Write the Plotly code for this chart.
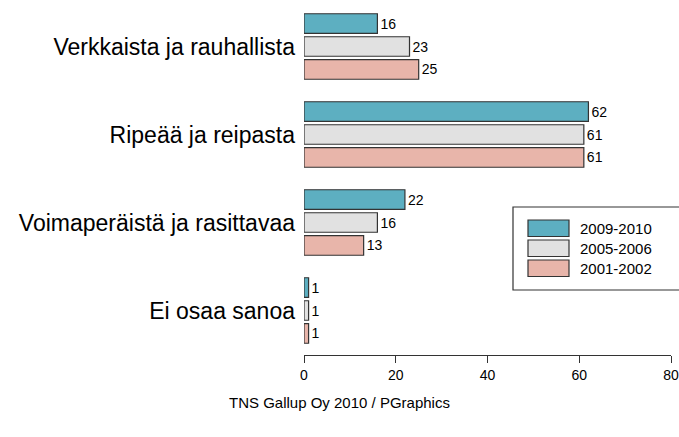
import plotly.graph_objects as go

categories = ["Verkkaista ja rauhallista", "Ripeää ja reipasta", "Voimaperäistä ja rasittavaa", "Ei osaa sanoa"]
series_names = ["2009-2010", "2005-2006", "2001-2002"]
values_2009 = [16, 62, 22, 1]
values_2005 = [23, 61, 16, 1]
values_2001 = [25, 61, 13, 1]
x_ticks = [0, 20, 40, 60, 80]
footer = "TNS Gallup Oy 2010 / PGraphics"

colors = ["#5DAFC1", "#E1E1E1", "#E8B5AA"]
font_family = "Liberation Sans, Arial, Helvetica, sans-serif"

W, H = 679, 437
# plot area in window pixels
PX0, PX1, PY0, PY1 = 304, 671, 10, 355
L = PX0
R = W - PX1
T = PY0
B = H - PY1
pw = PX1 - PX0
ph = PY1 - PY0

fig = go.Figure()
for name, vals, col in zip(series_names, [values_2009, values_2005, values_2001], colors):
    fig.add_trace(go.Bar(
        y=categories, x=vals, name=name, orientation="h",
        marker=dict(color=col, line=dict(color="#333333", width=1.2)),
        text=[str(v) for v in vals], textposition="outside",
        textfont=dict(size=14, color="#000000", family=font_family),
        constraintext="none", cliponaxis=False, showlegend=False,
    ))

pitch = 88.0
top_off = (46.5 - PY0) / pitch
span = ph / pitch
fig.update_layout(
    width=W, height=H,
    margin=dict(l=L, r=R, t=T, b=B, pad=0, autoexpand=False),
    paper_bgcolor="white", plot_bgcolor="white",
    barmode="group", bargap=0.216, bargroupgap=0.15,
    font=dict(family=font_family, color="#000000"),
    xaxis=dict(range=[0, 80], tickvals=x_ticks, ticktext=[str(t) for t in x_ticks],
               automargin=False, ticklabeloverflow="allow",
               showgrid=False, zeroline=False, showline=True, linecolor="#333333", linewidth=1,
               ticks="outside", ticklen=7, tickcolor="#333333", tickwidth=1,
               tickfont=dict(size=14, color="#000000")),
    yaxis=dict(type="category", categoryorder="array", categoryarray=categories,
               range=[span - top_off, -top_off], automargin=False,
               showgrid=False, zeroline=False, showline=False, ticks="",
               ticklabelstandoff=8,
               tickfont=dict(size=23, color="#000000")),
)

def px_x(p):
    return (p - PX0) / pw

def px_y(p):
    return (PY1 - p) / ph

shapes = [dict(type="rect", xref="paper", yref="paper",
               x0=px_x(513), x1=px_x(700), y0=px_y(290), y1=px_y(207),
               line=dict(color="#333333", width=1.2), fillcolor="rgba(0,0,0,0)")]
ann = []
for i, (name, col) in enumerate(zip(series_names, colors)):
    yt = 220 + i * 20
    shapes.append(dict(type="rect", xref="paper", yref="paper",
                       x0=px_x(528), x1=px_x(569), y0=px_y(yt + 16.5), y1=px_y(yt),
                       line=dict(color="#333333", width=1.2), fillcolor=col))
    ann.append(dict(xref="paper", yref="paper", x=px_x(578), y=px_y(yt + 8.5),
                    xanchor="left", yanchor="middle", text=name, showarrow=False,
                    font=dict(size=15, color="#000000", family=font_family)))
ann.append(dict(xref="paper", yref="paper", x=px_x(339.5), y=px_y(402),
                xanchor="center", yanchor="middle", text=footer, showarrow=False,
                font=dict(size=15, color="#000000", family=font_family)))
fig.update_layout(shapes=shapes, annotations=ann)

fig.write_html("out.html", config={"displayModeBar": False},
               post_script="document.body.style.margin='0';document.body.style.overflow='hidden';")
